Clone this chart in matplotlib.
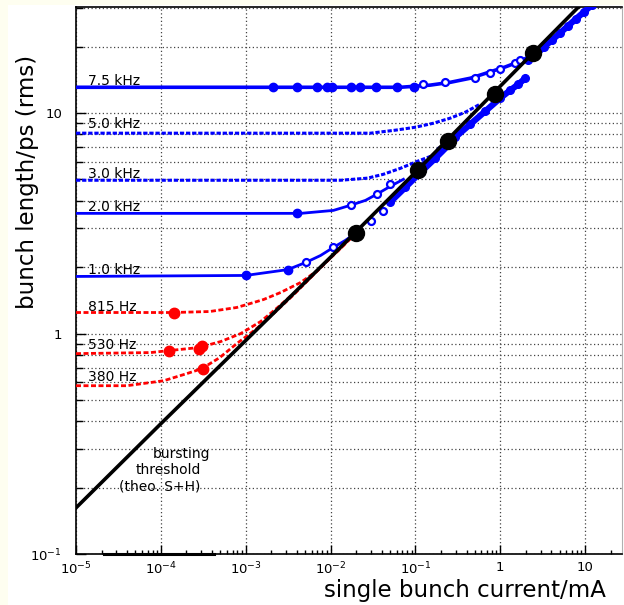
import matplotlib
matplotlib.use("Agg")
import matplotlib.pyplot as plt
from matplotlib.patches import Rectangle
from matplotlib.ticker import FixedLocator, LogLocator, NullFormatter

BLUE = "#0000ff"
RED = "#ff0000"

# bursting threshold, theory (S+H)
thr_I = [1e-5, 1e-4, 1e-3, 1e-2, 1e-1, 1.0, 10.0]
thr_s = [0.162, 0.39, 0.93, 2.22, 5.39, 13.25, 32.5]

# onset of bursting for each setting
onset_I = [0.0197, 0.108, 0.245, 0.87, 2.45]
onset_s = [2.85, 5.5, 7.5, 12.2, 18.8]

# fitted bunch length curves, blue = kHz settings
f75_I = [1e-5, 0.0666, 0.150, 0.258, 0.444, 0.763, 1.145, 1.72, 2.44,
         3.29, 4.09, 5.08, 6.31, 7.84, 9.73, 12.1]
f75_s = [13.1, 13.1, 13.4, 13.8, 14.4, 15.4, 16.2, 17.2, 18.4,
         19.95, 21.5, 23.1, 24.9, 26.8, 28.8, 31.0]
f50_I = [1e-5, 0.0296, 0.0582, 0.1, 0.163, 0.258, 0.388, 0.582]
f50_s = [8.11, 8.11, 8.37, 8.63, 9.0, 9.49, 10.1, 11.0]
f30_I = [1e-5, 0.0131, 0.0272, 0.042, 0.0666, 0.106, 0.163]
f30_s = [4.96, 4.96, 5.07, 5.28, 5.62, 6.05, 6.44]
f20_I = [1e-5, 4.44e-3, 0.0108, 0.0172, 0.0258, 0.0348, 0.0508, 0.0722]
f20_s = [3.51, 3.51, 3.62, 3.82, 4.02, 4.28, 4.66, 5.01]
f10_I = [1e-5, 1e-3, 3.12e-3, 5.08e-3, 7.62e-3, 0.0108, 0.015, 0.0197]
f10_s = [1.816, 1.835, 1.95, 2.10, 2.26, 2.46, 2.65, 2.85]

# red = Hz settings
f815_I = [1e-5, 1.42e-4, 3.77e-4, 7.83e-4, 1.24e-3, 1.63e-3, 2.58e-3,
          4.44e-3, 7.03e-3, 0.01, 0.0197]
f815_s = [1.246, 1.246, 1.259, 1.313, 1.383, 1.428, 1.536,
          1.705, 1.933, 2.215, 2.85]
f530_I = [1e-5, 7.62e-5, 1.24e-4, 2.8e-4, 5.08e-4, 8.73e-4, 1.5e-3,
          2.38e-3, 3.67e-3, 5.36e-3, 7.62e-3, 0.0131, 0.0197]
f530_s = [0.811, 0.82, 0.837, 0.864, 0.92, 1.0, 1.134,
          1.313, 1.52, 1.74, 2.0, 2.43, 2.85]
f380_I = [1e-5, 3.98e-5, 1.08e-4, 2.02e-4, 3.04e-4, 4.94e-4, 7.83e-4,
          1.35e-3, 2.13e-3, 3.67e-3, 7.62e-3, 0.0197]
f380_s = [0.58, 0.58, 0.611, 0.658, 0.693, 0.778, 0.90,
          1.054, 1.233, 1.50, 1.99, 2.85]

# measurements
m75_I = [2.08e-3, 3.98e-3, 7.0e-3, 9.2e-3, 1.03e-2, 1.72e-2, 2.25e-2,
         3.39e-2, 6.1e-2, 9.5e-2]
m75_s = [13.1, 13.1, 13.1, 13.1, 13.1, 13.1, 13.1, 13.1, 13.1, 13.1]
m75o_I = [0.124, 0.225, 0.508, 0.763, 1.0, 1.5, 1.72]
m75o_s = [13.6, 13.9, 14.4, 15.2, 15.8, 16.9, 17.4]
hi75_I = [2.13, 2.65, 3.29, 4.09, 5.08, 6.31, 7.84, 9.73, 12.1]
hi75_s = [17.4, 18.5, 19.95, 21.5, 23.1, 24.9, 26.8, 28.8, 31.0]
hi50_I = [0.131, 0.197, 0.296, 0.444, 0.666, 1.0, 1.31, 1.63, 1.97]
hi50_s = [5.86, 6.79, 7.78, 8.91, 10.2, 11.7, 12.7, 13.5, 14.4]
hi30_I = [0.0508, 0.0763, 0.115, 0.171, 0.258]
hi30_s = [3.96, 4.61, 5.39, 6.23, 7.3]
m20_I = [3.98e-3]
m20_s = [3.51]
m20o_I = [0.0172, 0.0348, 0.0508, 0.0296, 0.042]
m20o_s = [3.85, 4.28, 4.75, 3.23, 3.58]
m10_I = [1e-3, 3.12e-3]
m10_s = [1.835, 1.95]
m10o_I = [5.08e-3, 0.0108]
m10o_s = [2.12, 2.46]
m815_I = [1.42e-4]
m815_s = [1.246]
m530_I = [1.24e-4, 2.8e-4, 3.04e-4]
m530_s = [0.837, 0.855, 0.882]
m380_I = [3.1e-4]
m380_s = [0.693]

labels = ["7.5 kHz", "5.0 kHz", "3.0 kHz", "2.0 kHz", "1.0 kHz",
          "815 Hz", "530 Hz", "380 Hz"]
label_s = [13.4, 8.55, 5.06, 3.585, 1.854, 1.272, 0.855, 0.611]

xticks = [1e-5, 1e-4, 1e-3, 1e-2, 1e-1, 1.0, 10.0]
xticklabels = ["$10^{-5}$", "$10^{-4}$", "$10^{-3}$", "$10^{-2}$",
               "$10^{-1}$", "1", "10"]
yticks = [0.1, 1.0, 10.0]
yticklabels = ["$10^{-1}$", "1", "10"]

plt.rcParams["font.family"] = "DejaVu Sans"

fig = plt.figure(figsize=(6.24, 6.05), dpi=100, facecolor="white")
fig.patches.append(Rectangle((0, 1 - 5 / 605), 1, 5 / 605, transform=fig.transFigure,
                             facecolor="#fefef0", edgecolor="none", zorder=-1))
fig.patches.append(Rectangle((0, 0), 8 / 624, 1, transform=fig.transFigure,
                             facecolor="#fefef0", edgecolor="none", zorder=-1))
ax = fig.add_axes([76 / 624, 51 / 605, 546 / 624, 547 / 605])
ax.set_xscale("log")
ax.set_yscale("log")
ax.set_xlim(1e-5, 27.2)
ax.set_ylim(0.1, 30.3)

grid_kw = dict(color="#444444", lw=0.9, ls=(0, (1, 2)))
ax.grid(True, which="major", axis="x", **grid_kw)
ax.grid(True, which="both", axis="y", **grid_kw)
ax.set_axisbelow(True)

dash_b = (0, (1.4, 0.6))
dash_r = (0, (1.8, 0.9))

# fits
ax.plot(f75_I, f75_s, color=BLUE, lw=2.6, zorder=3)
ax.plot(f50_I, f50_s, color=BLUE, lw=2.2, ls=dash_b, zorder=3)
ax.plot(f30_I, f30_s, color=BLUE, lw=2.2, ls=dash_b, zorder=3)
ax.plot(f20_I, f20_s, color=BLUE, lw=2.0, zorder=3)
ax.plot(f10_I, f10_s, color=BLUE, lw=2.0, zorder=3)
ax.plot(f815_I, f815_s, color=RED, lw=2.0, ls=dash_r, zorder=3)
ax.plot(f530_I, f530_s, color=RED, lw=2.0, ls=dash_r, zorder=3)
ax.plot(f380_I, f380_s, color=RED, lw=2.0, ls=dash_r, zorder=3)

# measured points above threshold
for xs, ys in [(hi75_I, hi75_s), (hi50_I, hi50_s), (hi30_I, hi30_s)]:
    ax.plot(xs, ys, "-o", color=BLUE, lw=4.5, ms=5.5, zorder=3)

ax.plot(m75_I, m75_s, "o", color=BLUE, ms=6, zorder=4)
ax.plot(m20_I, m20_s, "o", color=BLUE, ms=6, zorder=4)
ax.plot(m10_I, m10_s, "o", color=BLUE, ms=6, zorder=4)
for xs, ys in [(m75o_I, m75o_s), (m20o_I, m20o_s), (m10o_I, m10o_s)]:
    ax.plot(xs, ys, "o", mfc="white", mec=BLUE, mew=1.6, ms=5, zorder=4)
for xs, ys in [(m815_I, m815_s), (m530_I, m530_s), (m380_I, m380_s)]:
    ax.plot(xs, ys, "o", color=RED, ms=7.5, zorder=4)

ax.plot(thr_I, thr_s, color="black", lw=2.6, zorder=5)
ax.plot(onset_I, onset_s, "o", color="black", ms=11.5, zorder=6)
ax.plot([2.14e-5, 4.2e-4], [0.1, 0.1], color="black", lw=2.2, zorder=6,
        clip_on=False)

for text, s in zip(labels, label_s):
    ax.text(1.38e-5, s, text, fontsize=10, va="baseline", ha="left", zorder=2)

ax.text(1.77e-4, 0.285, "bursting", fontsize=10, ha="center", va="center")
ax.text(1.21e-4, 0.241, "threshold", fontsize=10, ha="center", va="center")
ax.text(9.73e-5, 0.2015, "(theo. S+H)", fontsize=10, ha="center", va="center")

ax.xaxis.set_major_locator(FixedLocator(xticks))
ax.xaxis.set_minor_locator(LogLocator(base=10, subs=range(2, 10), numticks=20))
ax.xaxis.set_minor_formatter(NullFormatter())
ax.set_xticklabels(xticklabels)
ax.yaxis.set_major_locator(FixedLocator(yticks))
ax.yaxis.set_minor_locator(LogLocator(base=10, subs=range(2, 10), numticks=20))
ax.yaxis.set_minor_formatter(NullFormatter())
ax.set_yticklabels(yticklabels)

ax.tick_params(which="both", direction="in", top=False, right=False,
               labelsize=9.5, color="black")
ax.tick_params(axis="x", which="major", length=6.5, width=1.0, pad=5)
ax.tick_params(axis="x", which="minor", length=3, width=1.0)
ax.tick_params(axis="y", which="major", length=7, width=1.0, pad=10)
ax.tick_params(axis="y", which="minor", length=5, width=1.0)

for side in ["left", "bottom", "top"]:
    ax.spines[side].set_linewidth(1.2)
ax.spines["right"].set_color("#b0b0b0")

ax.set_xlabel("single bunch current/mA", fontsize=16.5)
ax.xaxis.set_label_coords(0.712, -0.066)
ax.xaxis.label.set_verticalalignment("center")
ax.set_ylabel("bunch length/ps (rms)", fontsize=16.5)
ax.yaxis.set_label_coords(-0.088, 0.68)
ax.yaxis.label.set_verticalalignment("center")

fig.savefig("out.png", dpi=100, facecolor=fig.get_facecolor())
